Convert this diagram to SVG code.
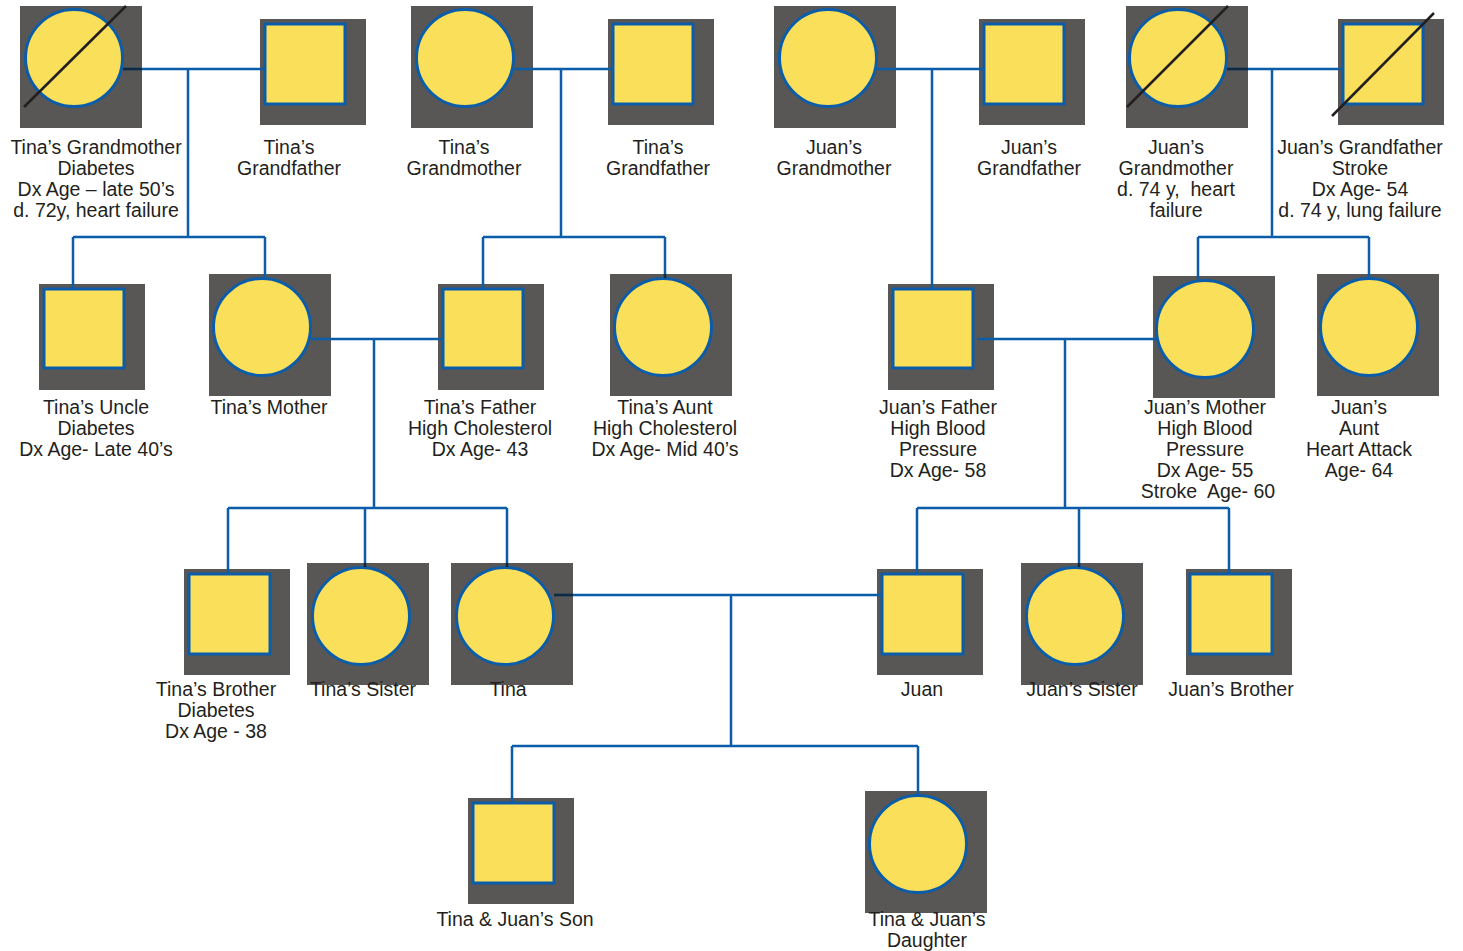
<svg xmlns="http://www.w3.org/2000/svg" width="1463" height="951" viewBox="0 0 1463 951">
<style>
.bg{fill:#595756}
.f{fill:#f9df5a;stroke:#0b5ca9;stroke-width:3}
.c{fill:none;stroke:#0b5ca9;stroke-width:2.5}
.dk{fill:none;stroke:#13273d;stroke-width:2.5}
.x{stroke:#231f20;stroke-width:2.5}
text{font-family:"Liberation Sans",Arial,sans-serif;font-size:19.5px;fill:#231f20;text-anchor:middle;white-space:pre}
</style>
<rect width="1463" height="951" fill="#ffffff"/>

<g id="tina-grandmother-1">
<rect class="bg" x="20" y="6" width="122" height="122"/>
<circle class="f" cx="74" cy="58" r="48.5"/>
<line class="x" x1="24" y1="107" x2="126" y2="6"/>
<text x="96" y="154">Tina’s Grandmother</text>
<text x="96" y="175">Diabetes</text>
<text x="96" y="196">Dx Age – late 50’s</text>
<text x="96" y="217">d. 72y, heart failure</text>
</g>
<g id="tina-grandfather-1">
<rect class="bg" x="260" y="19" width="106" height="106"/>
<rect class="f" x="265" y="24" width="80" height="80"/>
<text x="289" y="154">Tina’s</text>
<text x="289" y="175">Grandfather</text>
</g>
<g id="tina-grandmother-2">
<rect class="bg" x="411" y="6" width="122" height="122"/>
<circle class="f" cx="465" cy="58" r="48.5"/>
<text x="464" y="154">Tina’s</text>
<text x="464" y="175">Grandmother</text>
</g>
<g id="tina-grandfather-2">
<rect class="bg" x="608" y="19" width="106" height="106"/>
<rect class="f" x="613" y="24" width="80" height="80"/>
<text x="658" y="154">Tina’s</text>
<text x="658" y="175">Grandfather</text>
</g>
<g id="juan-grandmother-1">
<rect class="bg" x="774" y="6" width="122" height="122"/>
<circle class="f" cx="828" cy="58" r="48.5"/>
<text x="834" y="154">Juan’s</text>
<text x="834" y="175">Grandmother</text>
</g>
<g id="juan-grandfather-1">
<rect class="bg" x="979" y="19" width="106" height="106"/>
<rect class="f" x="984" y="24" width="80" height="80"/>
<text x="1029" y="154">Juan’s</text>
<text x="1029" y="175">Grandfather</text>
</g>
<g id="juan-grandmother-2">
<rect class="bg" x="1126" y="6" width="122" height="122"/>
<circle class="f" cx="1178" cy="58" r="48.5"/>
<line class="x" x1="1127" y1="107" x2="1228" y2="6"/>
<text x="1176" y="154">Juan’s</text>
<text x="1176" y="175">Grandmother</text>
<text x="1176" y="196">d. 74 y,  heart</text>
<text x="1176" y="217">failure</text>
</g>
<g id="juan-grandfather-2">
<rect class="bg" x="1338" y="19" width="106" height="106"/>
<rect class="f" x="1343" y="24" width="80" height="80"/>
<line class="x" x1="1332" y1="116" x2="1434" y2="13"/>
<text x="1360" y="154">Juan’s Grandfather</text>
<text x="1360" y="175">Stroke</text>
<text x="1360" y="196">Dx Age- 54</text>
<text x="1360" y="217">d. 74 y, lung failure</text>
</g>

<g id="tina-uncle">
<rect class="bg" x="39" y="284" width="106" height="106"/>
<rect class="f" x="44" y="289" width="80" height="79"/>
<text x="96" y="414">Tina’s Uncle</text>
<text x="96" y="435">Diabetes</text>
<text x="96" y="456">Dx Age- Late 40’s</text>
</g>
<g id="tina-mother">
<rect class="bg" x="209" y="274" width="122" height="122"/>
<circle class="f" cx="262" cy="327" r="48.5"/>
<text x="269" y="414">Tina’s Mother</text>
</g>
<g id="tina-father">
<rect class="bg" x="438" y="284" width="106" height="106"/>
<rect class="f" x="443" y="289" width="80" height="79"/>
<text x="480" y="414">Tina’s Father</text>
<text x="480" y="435">High Cholesterol</text>
<text x="480" y="456">Dx Age- 43</text>
</g>
<g id="tina-aunt">
<rect class="bg" x="610" y="274" width="122" height="122"/>
<circle class="f" cx="663" cy="327" r="48.5"/>
<text x="665" y="414">Tina’s Aunt</text>
<text x="665" y="435">High Cholesterol</text>
<text x="665" y="456">Dx Age- Mid 40’s</text>
</g>
<g id="juan-father">
<rect class="bg" x="888" y="284" width="106" height="106"/>
<rect class="f" x="893" y="289" width="80" height="79"/>
<text x="938" y="414">Juan’s Father</text>
<text x="938" y="435">High Blood</text>
<text x="938" y="456">Pressure</text>
<text x="938" y="477">Dx Age- 58</text>
</g>
<g id="juan-mother">
<rect class="bg" x="1153" y="276" width="122" height="122"/>
<circle class="f" cx="1205" cy="329" r="48.5"/>
<text x="1205" y="414">Juan’s Mother</text>
<text x="1205" y="435">High Blood</text>
<text x="1205" y="456">Pressure</text>
<text x="1205" y="477">Dx Age- 55</text>
<text x="1208" y="498">Stroke  Age- 60</text>
</g>
<g id="juan-aunt">
<rect class="bg" x="1317" y="274" width="122" height="122"/>
<circle class="f" cx="1369" cy="327" r="48.5"/>
<text x="1359" y="414">Juan’s</text>
<text x="1359" y="435">Aunt</text>
<text x="1359" y="456">Heart Attack</text>
<text x="1359" y="477">Age- 64</text>
</g>

<g id="tina-brother">
<rect class="bg" x="184" y="569" width="106" height="106"/>
<rect class="f" x="189" y="574" width="81" height="80"/>
<text x="216" y="696">Tina’s Brother</text>
<text x="216" y="717">Diabetes</text>
<text x="216" y="738">Dx Age - 38</text>
</g>
<g id="tina-sister">
<rect class="bg" x="307" y="563" width="122" height="122"/>
<circle class="f" cx="361" cy="616" r="48.5"/>
<text x="363" y="696">Tina’s Sister</text>
</g>
<g id="tina">
<rect class="bg" x="451" y="563" width="122" height="122"/>
<circle class="f" cx="505" cy="616" r="48.5"/>
<text x="508" y="696">Tina</text>
</g>
<g id="juan">
<rect class="bg" x="877" y="569" width="106" height="106"/>
<rect class="f" x="882" y="574" width="81" height="80"/>
<text x="922" y="696">Juan</text>
</g>
<g id="juan-sister">
<rect class="bg" x="1021" y="563" width="122" height="122"/>
<circle class="f" cx="1075" cy="616" r="48.5"/>
<text x="1082" y="696">Juan’s Sister</text>
</g>
<g id="juan-brother">
<rect class="bg" x="1186" y="569" width="106" height="106"/>
<rect class="f" x="1190" y="574" width="82" height="80"/>
<text x="1231" y="696">Juan’s Brother</text>
</g>

<g id="son">
<rect class="bg" x="468" y="798" width="106" height="106"/>
<rect class="f" x="473" y="803" width="81" height="80"/>
<text x="515" y="926">Tina &amp; Juan’s Son</text>
</g>
<g id="daughter">
<rect class="bg" x="865" y="791" width="122" height="122"/>
<circle class="f" cx="918" cy="844" r="48.5"/>
<text x="927" y="926">Tina &amp; Juan’s</text>
<text x="927" y="947">Daughter</text>
</g>

<g id="connectors">
<path class="c" d="M123 69H264M188 69V237M73 237H265M73 237V288M265 237V277"/>
<path class="c" d="M514 69H612M561 69V237M483 237H665M483 237V288M665 237V277"/>
<path class="c" d="M877 69H983M932 69V288"/>
<path class="c" d="M1227 69H1342M1272 69V237M1198 237H1369M1198 237V279M1369 237V277"/>
<path class="c" d="M311 339H442M374 339V508M228 508H507M228 508V573M365 508V567M507 508V567"/>
<path class="c" d="M977 339H1156M1065 339V508M917 508H1229M917 508V573M1079 508V567M1229 508V573"/>
<path class="c" d="M554 595H881M731 595V746M512 746H918M512 746V802M918 746V795"/>
<path class="dk" d="M123 69H142M1227 69H1248M554 595H573M665 274V278M365 563V567M507 563V567M1079 563V567"/>
</g>
</svg>
